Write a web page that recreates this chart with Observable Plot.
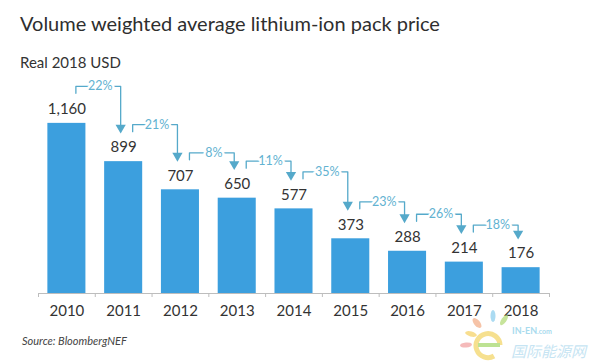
<!DOCTYPE html>
<html>
<head>
<meta charset="utf-8">
<script src="https://cdn.jsdelivr.net/npm/d3@7"></script>
<script src="https://cdn.jsdelivr.net/npm/@observablehq/plot@0.6"></script>
<style>
  html, body { margin: 0; padding: 0; background: #fff; }
  #wrap { position: relative; width: 600px; height: 362px; overflow: hidden; font-family: Lato, "Open Sans", sans-serif; color: #333; }
  #title { position: absolute; left: 20px; top: 12px; font-size: 20px; line-height: 22px; color: #2e2e2e; white-space: nowrap; }
  #subtitle { position: absolute; left: 20px; top: 53px; font-size: 15px; line-height: 18px; color: #333; white-space: nowrap; }
  #source { position: absolute; left: 22px; top: 334px; font-size: 11px; line-height: 14px; font-style: italic; color: #444; white-space: nowrap; }
  #chart { position: absolute; left: 0; top: 0; }
  #wm { position: absolute; left: 455px; top: 305px; }
</style>
</head>
<body>
<div id="wrap">
  <div id="chart"></div>
  <div id="title">Volume weighted average lithium-ion pack price</div>
  <div id="subtitle">Real 2018 USD</div>
  <div id="source">Source: BloombergNEF</div>
  <svg id="wm" width="145" height="57" viewBox="455 305 145 57">
    <g opacity="0.75">
      <ellipse cx="477" cy="323" rx="3" ry="6" fill="#f4b08a" transform="rotate(-40 477 323)"/>
      <ellipse cx="493" cy="316" rx="2.5" ry="6" fill="#8fd0ee"/>
      <ellipse cx="504" cy="320" rx="2.5" ry="6" fill="#b5dc7a" transform="rotate(35 504 320)"/>
      <ellipse cx="471" cy="334" rx="2.5" ry="6" fill="#f6d36a" transform="rotate(-75 471 334)"/>
      <ellipse cx="466" cy="345" rx="2.5" ry="6" fill="#f2a3a3" transform="rotate(-95 466 345)"/>
      <path d="M 500 345 A 12 12 0 1 0 494 356" fill="none" stroke="#f3d66a" stroke-width="5"/>
      <path d="M 478 345 L 500 345" fill="none" stroke="#a8d96f" stroke-width="4"/>
      <text x="512" y="334" font-family="Lato, sans-serif" font-size="9" font-weight="bold" fill="#8ccfe9">IN-EN<tspan font-size="7">.com</tspan></text>
      <text x="511" y="357" font-family="'Noto Sans CJK SC', sans-serif" font-size="15" font-style="italic" fill="#b4dcef">国际能源网</text>
    </g>
  </svg>
</div>
<script>
// ---- data ----
const years = ["2010", "2011", "2012", "2013", "2014", "2015", "2016", "2017", "2018"];
const prices = [1160, 899, 707, 650, 577, 373, 288, 214, 176];
const declines = [22, 21, 8, 11, 35, 23, 26, 18]; // % drop from one year to the next

// ---- layout ----
const W = 600, H = 362;
const mTop = 73, mBottom = 69, mLeft = 38, mRight = 51;
const yMax = 1500;
const ppu = (H - mTop - mBottom) / yMax;          // pixels per USD
const pxX = (W - mLeft - mRight) / years.length;  // pixels per category

const barColor = "#3c9fde";
const noteLine = "#55a9ca";
const noteText = "#62b2d1";
const fmt = d3.format(",");

const rows = years.map((y, i) => ({i, year: y, value: prices[i]}));

// annotation brackets, derived from values through pixel offsets
const brackets = declines.map((p, k) => {
  const i = k, j = k + 1;
  const xL = i + 9 / pxX;
  const xR = j - 3 / pxX;
  const yLine = prices[i] + 37 / ppu;
  const yTickBot = yLine - 7 / ppu;
  const yTip = prices[j] + 31 / ppu;
  return {k, p, xL, xR, yLine, yTickBot, yTip};
});
const pathPts = brackets.flatMap(b => [
  {k: b.k, x: b.xL, y: b.yTickBot},
  {k: b.k, x: b.xL, y: b.yLine},
  {k: b.k, x: b.xR, y: b.yLine},
  {k: b.k, x: b.xR, y: b.yTip + 5 / ppu}
]);
const bounds = d3.range(years.length + 1).map(i => i - 0.5);

const chart = Plot.plot({
  width: W,
  height: H,
  marginTop: mTop,
  marginBottom: mBottom,
  marginLeft: mLeft,
  marginRight: mRight,
  x: {domain: [-0.5, years.length - 0.5], axis: null},
  y: {domain: [0, yMax], axis: null},
  style: {fontFamily: "Lato, 'Open Sans', sans-serif", background: "transparent"},
  marks: [
    Plot.rectY(rows, {x1: d => d.i - 0.335, x2: d => d.i + 0.335, y: "value", fill: barColor}),
    Plot.ruleY([0], {x1: -0.5, x2: years.length - 0.5, stroke: "#bdbdbd", strokeWidth: 1}),
    Plot.ruleX(bounds, {x: d => d, y1: 0, y2: -4 / ppu, stroke: "#bdbdbd", strokeWidth: 1}),
    Plot.text(rows, {x: "i", y: 0, text: "year", dy: 18, fontSize: 15, fill: "#333"}),
    Plot.text(rows, {x: "i", y: "value", text: d => fmt(d.value), dy: -14, fontSize: 15, fill: "#333"}),
    Plot.line(pathPts, {x: "x", y: "y", z: "k", stroke: noteLine, strokeWidth: 1.3, curve: "linear"}),
    Plot.dot(brackets, {x: "xR", y: d => d.yTip + 3 / ppu, symbol: "triangle", rotate: 180, r: 3.8, fill: noteLine, stroke: null}),
    Plot.text(brackets, {x: d => (d.xL + d.xR) / 2 + 2 / pxX, y: "yLine", text: d => d.p + "%", fontSize: 12.5, fill: noteText, stroke: "white", strokeWidth: 5})
  ]
});
document.getElementById("chart").appendChild(chart);
</script>
</body>
</html>
